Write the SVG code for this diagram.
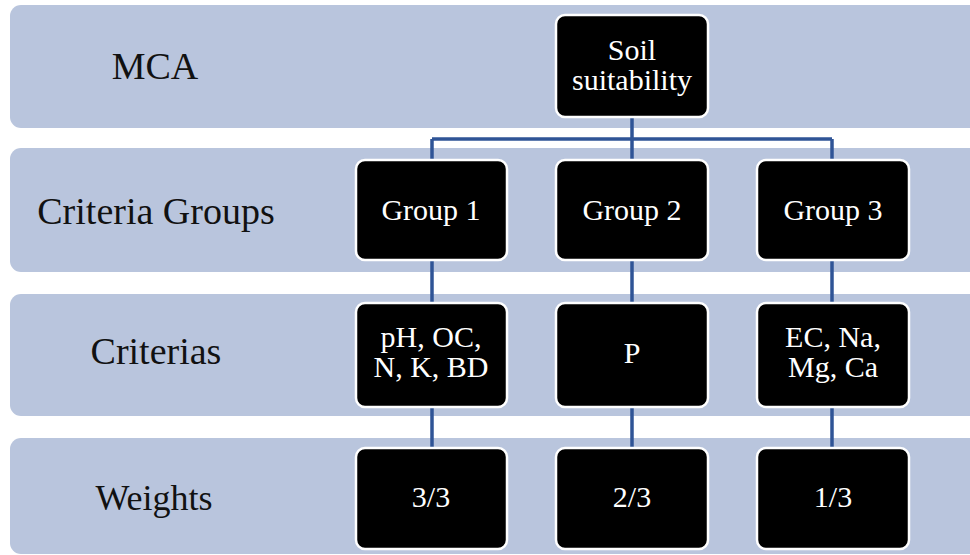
<svg xmlns="http://www.w3.org/2000/svg" width="970" height="555" viewBox="0 0 970 555">
<style>
.band{fill:#b9c5dd}
text{font-family:'Liberation Serif','Times New Roman',serif}
.lbl{font-size:38px;fill:#111;text-anchor:middle}
.node rect{fill:#000;stroke:#fff;stroke-width:2.5}
.node text{font-size:30px;fill:#fff;text-anchor:middle}
.conn{stroke:#2f5496;stroke-width:3.5;fill:none}
</style>
<rect width="970" height="555" fill="#fff"/>
<g id="bands">
<rect class="band" x="10" y="5" width="975" height="123" rx="11"/>
<rect class="band" x="10" y="148" width="975" height="124" rx="11"/>
<rect class="band" x="10" y="294" width="975" height="122" rx="11"/>
<rect class="band" x="10" y="438" width="975" height="116" rx="11"/>
</g>
<g id="labels">
<text class="lbl" x="155" y="79">MCA</text>
<text class="lbl" x="156" y="224">Criteria Groups</text>
<text class="lbl" x="156" y="364">Criterias</text>
<text class="lbl" x="154" y="510" style="font-size:36px">Weights</text>
</g>
<g id="connectors">
<path class="conn" d="M632 117 V139 M432 139 H832 M432 139 V160 M632 139 V160 M832 139 V160"/>
<path class="conn" d="M432 260 V303 M632 260 V303 M832 260 V303"/>
<path class="conn" d="M432 407 V448 M632 407 V448 M832 407 V448"/>
</g>
<g id="soil" class="node"><rect x="556" y="15" width="152" height="102" rx="9"/><text x="632" y="60">Soil<tspan x="632" dy="30">suitability</tspan></text></g>
<g id="group1" class="node"><rect x="356" y="160" width="151" height="100" rx="9"/><text x="431" y="220">Group 1</text></g>
<g id="group2" class="node"><rect x="556" y="160" width="152" height="100" rx="9"/><text x="632" y="220">Group 2</text></g>
<g id="group3" class="node"><rect x="757" y="160" width="152" height="100" rx="9"/><text x="833" y="220">Group 3</text></g>
<g id="crit1" class="node"><rect x="356" y="303" width="151" height="104" rx="9"/><text x="431" y="347">pH, OC,<tspan x="431" dy="30">N, K, BD</tspan></text></g>
<g id="crit2" class="node"><rect x="556" y="303" width="152" height="104" rx="9"/><text x="632" y="363">P</text></g>
<g id="crit3" class="node"><rect x="757" y="303" width="152" height="104" rx="9"/><text x="833" y="347">EC, Na,<tspan x="833" dy="30">Mg, Ca</tspan></text></g>
<g id="w1" class="node"><rect x="356" y="448" width="151" height="101" rx="9"/><text x="431" y="507">3/3</text></g>
<g id="w2" class="node"><rect x="556" y="448" width="152" height="101" rx="9"/><text x="632" y="507">2/3</text></g>
<g id="w3" class="node"><rect x="757" y="448" width="152" height="101" rx="9"/><text x="833" y="507">1/3</text></g>
</svg>
